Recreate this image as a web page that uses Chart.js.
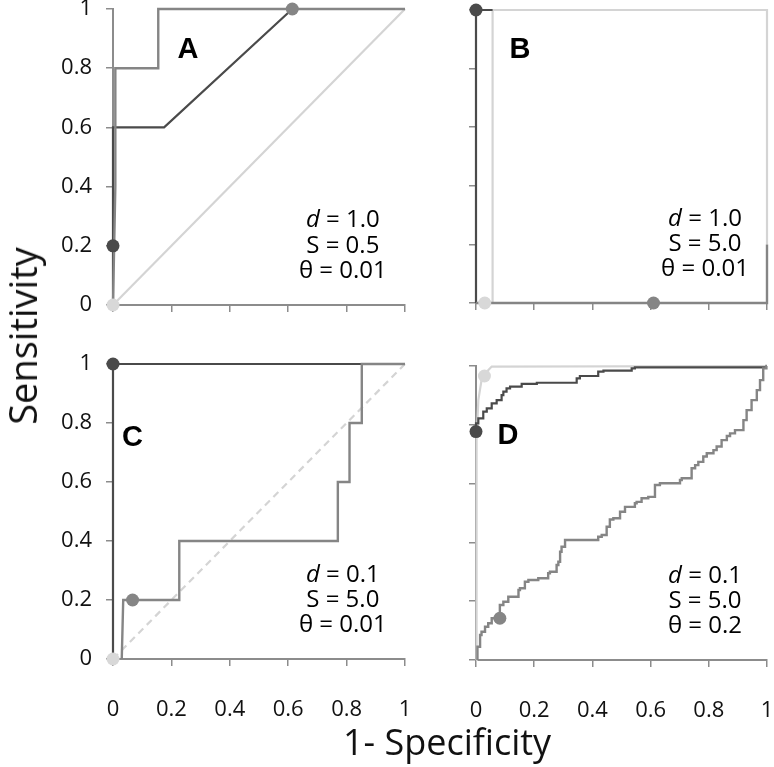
<!DOCTYPE html>
<html>
<head>
<meta charset="utf-8">
<script src="https://cdn.jsdelivr.net/npm/chart.js@4.4.0/dist/chart.umd.min.js"></script>
<style>
body{margin:0;background:#fff;width:774px;height:767px;overflow:hidden;position:relative;font-family:"Open Sans",sans-serif}
canvas{position:absolute}
.title{position:absolute;white-space:nowrap;color:#111}
#ytitle{left:22px;top:336px;font-size:38px;transform:translate(-50%,-50%) rotate(-90deg)}
#xtitle{left:447px;top:741px;font-size:36px;transform:translate(-50%,-50%)}
</style>
</head>
<body>
<canvas id="cA" width="420" height="350" style="left:0;top:0"></canvas>
<canvas id="cB" width="354" height="350" style="left:420px;top:0"></canvas>
<canvas id="cC" width="420" height="400" style="left:0;top:350px"></canvas>
<canvas id="cD" width="354" height="400" style="left:420px;top:350px"></canvas>
<div class="title" id="ytitle">Sensitivity</div>
<div class="title" id="xtitle">1- Specificity</div>
<script>
// tick labels
const xTicks = ['0', '0.2', '0.4', '0.6', '0.8', '1'];
const yTicks = ['0', '0.2', '0.4', '0.6', '0.8', '1'];

// panel A  (x = 1-specificity, y = sensitivity)
const aDark = [[0,0],[0,0.6],[0.175,0.6],[0.614,1]];
const aMid = [[0,0],[0.008,0.4],[0.008,0.8],[0.155,0.8],[0.155,1],[1,1]];
const aLight = [[0,0],[1,1]];
const aMarks = [[0,0.2],[0.614,1],[0,0]]; // dark, mid, light
const aStats = ['1.0', '0.5', '0.01'];

// panel B
const bDark = [[0,0],[0,1],[0.057,1]];
const bMid = [[0,0],[1,0],[1,0.2]];
const bLight = [[0.057,0],[0.057,1],[1,1],[1,0.2]];
const bMarks = [[0,1],[0.61,0],[0.03,0]];
const bStats = ['1.0', '5.0', '0.01'];

// panel C
const cDark = [[0,0],[0,1],[1,1]];
const cMid = [[0.03,0],[0.035,0.2],[0.227,0.2],[0.227,0.4],[0.77,0.4],[0.77,0.6],[0.81,0.6],[0.81,0.8],[0.852,0.8],[0.852,1],[1,1]];
const cLight = [[0,0],[1,1]];
const cMarks = [[0,1],[0.067,0.2],[0,0]];
const cStats = ['0.1', '5.0', '0.01'];

// panel D
const dDark = [[0,0.76],[0,0.777],[0.008,0.805],[0.025,0.822],[0.037,0.845],[0.054,0.856],[0.071,0.873],[0.088,0.884],[0.094,0.901],[0.105,0.913],[0.117,0.924],[0.157,0.93],[0.209,0.939],[0.214,0.943],[0.346,0.943],[0.357,0.958],[0.42,0.966],[0.438,0.981],[0.535,0.984],[0.546,0.992],[1,0.995]];
const dMid = [[0.005,0],[0.014,0.045],[0.019,0.085],[0.031,0.096],[0.042,0.113],[0.054,0.125],[0.082,0.142],[0.094,0.187],[0.111,0.198],[0.117,0.215],[0.146,0.215],[0.151,0.238],[0.168,0.244],[0.18,0.266],[0.214,0.272],[0.22,0.278],[0.248,0.278],[0.254,0.295],[0.277,0.3],[0.283,0.323],[0.289,0.334],[0.294,0.368],[0.306,0.385],[0.323,0.408],[0.42,0.408],[0.432,0.419],[0.449,0.425],[0.46,0.453],[0.472,0.478],[0.495,0.482],[0.512,0.504],[0.546,0.521],[0.552,0.533],[0.569,0.538],[0.592,0.55],[0.615,0.555],[0.632,0.595],[0.644,0.601],[0.701,0.601],[0.707,0.612],[0.741,0.618],[0.753,0.652],[0.764,0.663],[0.781,0.674],[0.793,0.692],[0.816,0.703],[0.827,0.714],[0.844,0.726],[0.862,0.748],[0.873,0.762],[0.89,0.771],[0.919,0.782],[0.93,0.816],[0.947,0.85],[0.965,0.884],[0.976,0.918],[0.987,0.952],[0.998,0.992],[1,1]];
const dLight = [[0,0],[0.002,0.75],[0.008,0.884],[0.019,0.952],[0.029,0.966],[0.042,0.986],[0.054,0.998],[1,1]];
const dMarks = [[0,0.777],[0.082,0.142],[0.029,0.966]];
const dStats = ['0.1', '5.0', '0.2'];

const statNames = ['d', 'S', '\u03B8'];

const darkCol = '#4a4a4a';
const midCol = '#858585';
const lightCol = '#d4d4d4';
const axisCol = '#8c8c8c';

const pts = arr => arr.map(p => ({x: p[0], y: p[1]}));

// letters + d/S/theta text, placed with the chart scales
const panelText = {
    id: 'panelText',
    afterDatasetsDraw(chart, args, o) {
        const ctx = chart.ctx;
        const x = chart.scales.x, y = chart.scales.y;
        ctx.save();
        ctx.fillStyle = '#000';
        ctx.textBaseline = 'middle';
        ctx.textAlign = 'center';
        ctx.font = 'bold 29px "Liberation Sans", Arial, sans-serif';
        ctx.fillText(o.letter, x.getPixelForValue(o.letterAt[0]), y.getPixelForValue(o.letterAt[1]));

        ctx.textAlign = 'left';
        const cx = x.getPixelForValue(0.787);
        const rows = [0.285, 0.2, 0.115];
        for (let i = 0; i < 3; i++) {
            const nameFont = (i == 0 ? 'italic ' : '') + '24px "Open Sans"';
            const restFont = '24px "Open Sans"';
            const rest = ' = ' + o.stats[i];
            ctx.font = nameFont;
            const w1 = ctx.measureText(statNames[i]).width;
            ctx.font = restFont;
            const w2 = ctx.measureText(rest).width;
            let left = cx - (w1 + w2) / 2;
            const py = y.getPixelForValue(rows[i]);
            ctx.font = nameFont;
            ctx.fillText(statNames[i], left, py);
            ctx.font = restFont;
            ctx.fillText(rest, left + w1, py);
        }
        ctx.restore();
    }
};

function axis(labels, showLabels, size, horizontal) {
    return {
        type: 'linear', min: 0, max: 1,
        border: {color: axisCol, width: 2},
        grid: {drawOnChartArea: false, color: axisCol, tickLength: 7, lineWidth: 1.5},
        ticks: {
            display: showLabels, stepSize: 0.2,
            padding: horizontal ? 31 : 14,
            color: '#111',
            font: {family: 'Open Sans', size: 22},
            callback: (v, i) => labels[i]
        },
        afterFit(s) {
            if (horizontal) s.height = size; else s.width = size;
            s.paddingLeft = s.paddingRight = s.paddingTop = s.paddingBottom = 0;
        }
    };
}

function lineSet(data, color, width, extra) {
    return Object.assign({
        data: pts(data), borderColor: color, borderWidth: width,
        pointRadius: 0, tension: 0, fill: false, clip: false
    }, extra || {});
}

function markSet(p, color) {
    return {
        data: pts([p]), showLine: false, pointRadius: 6.5, pointHoverRadius: 6.5,
        pointBackgroundColor: color, pointBorderWidth: 0, clip: false
    };
}

function makePanel(id, cfg) {
    new Chart(document.getElementById(id), {
        type: 'line',
        data: {
            datasets: [
                markSet(cfg.marks[0], darkCol),
                markSet(cfg.marks[1], midCol),
                markSet(cfg.marks[2], '#d8d8d8'),
                lineSet(cfg.mid, midCol, 2.4, cfg.stepped ? {stepped: 'after'} : {}),
                lineSet(cfg.dark, darkCol, 2.2, cfg.stepped ? {stepped: 'after'} : {}),
                lineSet(cfg.light, lightCol, 2.2, cfg.dash ? {borderDash: [7, 5]} : {})
            ]
        },
        options: {
            responsive: false,
            animation: false,
            events: [],
            layout: {padding: cfg.pad},
            scales: {
                x: axis(xTicks, cfg.xLabels, cfg.xH, true),
                y: axis(yTicks, cfg.yLabels, cfg.yW, false)
            },
            plugins: {
                legend: {display: false},
                tooltip: {enabled: false},
                panelText: {letter: cfg.letter, letterAt: cfg.letterAt, stats: cfg.stats}
            }
        },
        plugins: [panelText]
    });
}

makePanel('cA', {dark: aDark, mid: aMid, light: aLight, marks: aMarks, stats: aStats,
    letter: 'A', letterAt: [0.257, 0.86], xLabels: false, yLabels: true,
    pad: {left: 0, right: 15, top: 9, bottom: 0}, yW: 113, xH: 45});
makePanel('cB', {dark: bDark, mid: bMid, light: bLight, marks: bMarks, stats: bStats,
    letter: 'B', letterAt: [0.151, 0.863], xLabels: false, yLabels: false,
    pad: {left: 0, right: 7, top: 10, bottom: 0}, yW: 56, xH: 47});
makePanel('cC', {dark: cDark, mid: cMid, light: cLight, marks: cMarks, stats: cStats, dash: true,
    letter: 'C', letterAt: [0.067, 0.75], xLabels: true, yLabels: true,
    pad: {left: 0, right: 15, top: 14, bottom: 0}, yW: 113, xH: 91});
makePanel('cD', {dark: dDark, mid: dMid, light: dLight, marks: dMarks, stats: dStats, stepped: true,
    letter: 'D', letterAt: [0.11, 0.762], xLabels: true, yLabels: false,
    pad: {left: 0, right: 7, top: 16, bottom: 0}, yW: 56, xH: 90});
</script>
</body>
</html>
